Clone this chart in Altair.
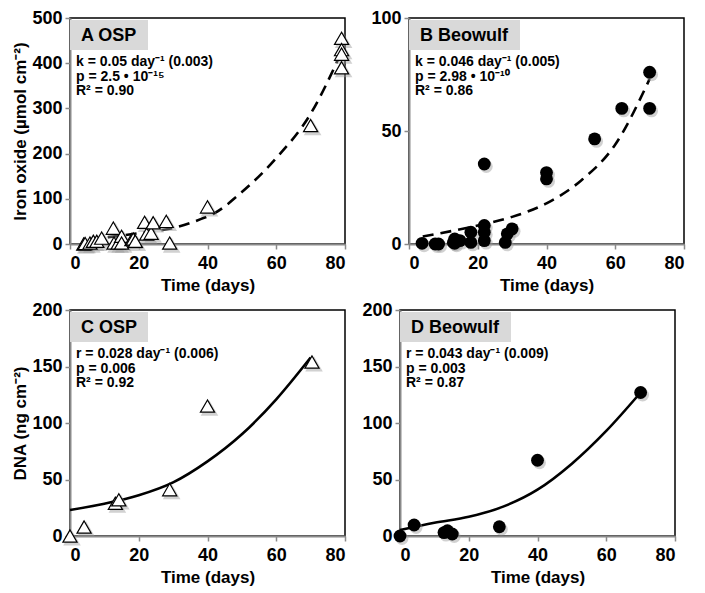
import altair as alt
import pandas as pd

# ---------------- data ----------------
# Panel A: Iron oxide, OSP (open triangles)
a_time = [4, 4.4, 5.8, 6.8, 7.8, 9.2, 12.6, 12.8, 14, 15, 15, 18, 18.4, 19,
          21.7, 22.3, 23.6, 24.2, 28, 29, 40, 70, 79, 79, 79, 79]
a_iron = [0, 1, 2, 6, 6, 13, 35, 2, 2, 17, 2, 10, 11, 6,
          48, 22, 24, 47, 50, 2, 82, 262, 455, 430, 420, 390]
a_fit_t = [11, 20, 31, 38, 42, 50, 60, 70, 79]
a_fit_v = [15, 24, 37, 55, 68, 115, 190, 288, 425]

# Panel B: Iron oxide, Beowulf (filled circles)
b_time = [3.8, 7.6, 8.6, 12.9, 13.3, 13.3, 14.8, 18, 18, 21.9, 21.9, 21.9,
          21.9, 28, 28.6, 30, 40, 40, 54, 61.9, 70, 70]
b_iron = [0.3, 0, 0, 0.7, 2.2, 0.3, 1.5, 5.2, 0.7, 1.5, 5.2, 8.2,
          35.4, 0.7, 4.5, 6.7, 31.6, 28.8, 46.5, 60, 76, 60]
b_fit_t = [4, 20, 30, 40, 50, 60, 70]
b_fit_v = [3.3, 8.2, 12, 18, 28, 44, 73]

# Panel C: DNA, OSP (open triangles)
c_time = [0, 4.1, 13.2, 14.2, 29, 40, 70.4]
c_dna = [0, 8, 29, 32, 41, 115, 154]
c_fit_t = [0, 10, 20, 30, 40, 50, 60, 70]
c_fit_v = [23, 28.6, 36, 47.4, 66, 90, 121, 158]

# Panel D: DNA, Beowulf (filled circles)
d_time = [0, 4.1, 12.8, 13.8, 15.2, 28.9, 40, 70]
d_dna = [0, 9.7, 3, 4.7, 1.8, 8.2, 67, 127]
d_fit_t = [0, 10, 20, 30, 40, 50, 60, 70]
d_fit_v = [5.3, 11.7, 17, 26, 41, 64, 93, 127]

x_ticks = [0, 20, 40, 60, 80]

FONT = "Liberation Sans"
H = 226


def panel(pt_t, pt_v, fit_t, fit_v, ymax, ystep, triangles, dashed,
          label, label_w, lines, ytitle, width):
    pts = pd.DataFrame({"t": pt_t, "v": pt_v})
    fit = pd.DataFrame({"t": fit_t, "v": fit_v})
    dummy = pd.DataFrame({"a": [0]})

    xenc = alt.X("t:Q", scale=alt.Scale(domain=[0, 80], nice=False),
                 axis=alt.Axis(values=x_ticks, title="Time (days)"))
    yaxis = alt.Axis(values=list(range(0, ymax + 1, ystep)),
                     title=ytitle if ytitle else None)
    yenc = alt.Y("v:Q", scale=alt.Scale(domain=[0, ymax], nice=False), axis=yaxis)

    box = alt.Chart(dummy).mark_rect(color="#d9d9d9").encode(
        x=alt.value(0), x2=alt.value(label_w), y=alt.value(2), y2=alt.value(32))
    lab = alt.Chart(dummy).mark_text(
        text=label, align="left", baseline="middle", font=FONT,
        fontSize=18, fontWeight="bold", color="black").encode(
        x=alt.value(11), y=alt.value(18))
    anns = []
    for i, ln in enumerate(lines):
        anns.append(alt.Chart(dummy).mark_text(
            text=ln, align="left", baseline="middle", font=FONT,
            fontSize=14, fontWeight="bold", color="black").encode(
            x=alt.value(6), y=alt.value(44 + 14.5 * i)))

    line_kw = dict(color="black", strokeWidth=2.6, interpolate="monotone")
    if dashed:
        line_kw["strokeDash"] = [11, 7]
    curve = alt.Chart(fit).mark_line(**line_kw).encode(x=xenc, y=yenc)

    if triangles:
        shadow = alt.Chart(pts).mark_point(
            shape="triangle-up", filled=True, fill="#9a9a9a", opacity=0.45,
            stroke="#9a9a9a", size=200, xOffset=2, yOffset=2.5).encode(x=xenc, y=yenc)
        marks = alt.Chart(pts).mark_point(
            shape="triangle-up", filled=True, fill="white", opacity=1,
            stroke="black", strokeWidth=1.2, size=200).encode(x=xenc, y=yenc)
    else:
        shadow = alt.Chart(pts).mark_point(
            shape="circle", filled=True, fill="#9a9a9a", opacity=0.45,
            strokeWidth=0, size=165, xOffset=2, yOffset=2.5).encode(x=xenc, y=yenc)
        marks = alt.Chart(pts).mark_point(
            shape="circle", filled=True, fill="black", opacity=1,
            strokeWidth=0, size=165).encode(x=xenc, y=yenc)

    return alt.layer(box, curve, shadow, marks, lab, *anns).properties(
        width=width, height=H)


pA = panel(a_time, a_iron, a_fit_t, a_fit_v, 500, 100, True, True,
           "A  OSP", 78,
           ["k = 0.05 day\u207b\u00b9 (0.003)", "p = 2.5 \u2022 10\u207b\u00b9\u2075", "R\u00b2 = 0.90"],
           "Iron oxide (\u00b5mol cm\u207b\u00b2)", 275)
pB = panel(b_time, b_iron, b_fit_t, b_fit_v, 100, 50, False, True,
           "B  Beowulf", 111,
           ["k = 0.046 day\u207b\u00b9 (0.005)", "p = 2.98 \u2022 10\u207b\u00b9\u2070", "R\u00b2 = 0.86"],
           None, 275)
pC = panel(c_time, c_dna, c_fit_t, c_fit_v, 200, 50, True, False,
           "C  OSP", 78,
           ["r = 0.028 day\u207b\u00b9 (0.006)", "p = 0.006", "R\u00b2 = 0.92"],
           "DNA (ng cm\u207b\u00b2)", 275)
pD = panel(d_time, d_dna, d_fit_t, d_fit_v, 200, 50, False, False,
           "D  Beowulf", 111,
           ["r = 0.043 day\u207b\u00b9 (0.009)", "p = 0.003", "R\u00b2 = 0.87"],
           None, 275)

chart = alt.vconcat(
    alt.hconcat(pA, pB, spacing=14),
    alt.hconcat(pC, pD, spacing=14),
    spacing=6,
).properties(padding={"left": 3, "top": 0, "right": 0, "bottom": 0}).configure_view(
    stroke="black", strokeWidth=1.5
).configure_axis(
    grid=False, domainColor="#8a8a8a", domainWidth=2,
    tickColor="#8a8a8a", tickSize=5, tickWidth=1.5,
    labelFont=FONT, labelFontSize=18, labelFontWeight="bold", labelColor="black",
    titleFont=FONT, titleFontSize=17, titleFontWeight="bold", titleColor="black",
).configure_axisX(labelPadding=5, titlePadding=5).configure_axisY(
    labelPadding=3, titlePadding=2)

chart.save("out.html", embed_options={"renderer": "svg", "actions": False})
